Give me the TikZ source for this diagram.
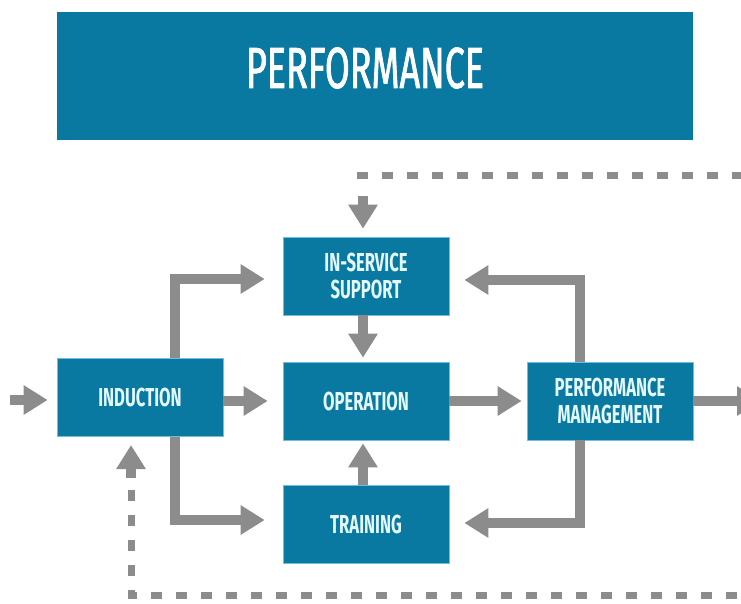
\documentclass[tikz,border=0pt]{standalone}
\usepackage{fontspec}
\setmainfont{Fira Sans}
\newfontfamily\condfont{Fira Sans}[FakeStretch=0.64]
\newfontfamily\headfont{Fira Sans}[FakeStretch=0.62,FakeBold=1.2]
\usetikzlibrary{arrows.meta}
\definecolor{boxblue}{RGB}{9,121,161}
\definecolor{boxedge}{RGB}{110,190,220}
\definecolor{arrowgray}{RGB}{140,140,140}
\definecolor{labeltxt}{RGB}{228,249,255}
\begin{document}
\begin{tikzpicture}[x=1pt,y=-1pt,
  stage/.style={fill=boxblue, draw=boxedge, line width=0.7pt,
    minimum width=166pt, minimum height=78pt, inner sep=0pt,
    text=labeltxt, align=center,
    font=\condfont\bfseries\fontsize{26}{27}\selectfont},
  flow/.style={draw=arrowgray, line width=9.5pt, line join=miter,
    -{Triangle[length=24pt,width=28pt]}},
  dashline/.style={draw=arrowgray, line width=7pt, dash pattern=on 11pt off 14pt},
]
\clip (0,0) rectangle (741,603);
\useasboundingbox (0,0) rectangle (741,603);
\fill[white] (0,0) rectangle (741,603);

% header
\node[fill=boxblue, minimum width=636pt, minimum height=128pt, inner sep=0pt,
  anchor=north west] (head) at (57,12) {};
\node[text=white, font=\headfont\fontsize{58}{58}\selectfont, inner sep=0pt]
  (headtxt) at (365,68) {PERFORMANCE};

% stages
\node[stage] (ind) at (140,397.5) {INDUCTION};
\node[stage] (isv) at (366,276) {IN-SERVICE\\SUPPORT};
\node[stage] (op)  at (366,401) {OPERATION};
\node[stage] (tr)  at (366,524) {TRAINING};
\node[stage] (pm)  at (610,401) {PERFORMANCE\\MANAGEMENT};

% free ends
\coordinate (in0) at (10,400);
\coordinate (out0) at (761,401);
\coordinate (fbtop) at (363,196);
\coordinate (fbleft) at (131,478);

% solid connectors
\draw[flow] (in0) -- ([xshift=-9pt]ind.west |- in0);
\draw[flow] (ind.east |- op.west) -- ([xshift=-15pt]op.west);
\draw[flow] (op.east) -- ([xshift=-5pt]pm.west);
\draw[flow] (pm.east) -- (out0);
\draw[flow] ([xshift=-3pt]isv.south) -- ([xshift=-3pt,yshift=4pt]op.north);
\draw[flow] ([xshift=-3pt]tr.north) -- ([xshift=-3pt,yshift=-3pt]op.south);
\draw[flow] ([xshift=35pt]ind.north) |- ([xshift=-18pt,yshift=-3pt]isv.west);
\draw[flow] ([xshift=35pt]ind.south) |- ([xshift=-18pt,yshift=4pt]tr.west);
\draw[flow] ([xshift=-30pt]pm.north) |- ([xshift=15pt,yshift=-4pt]isv.east);
\draw[flow] ([xshift=-30pt]pm.south) |- ([xshift=15pt,yshift=1pt]tr.east);

% feedback (dashed) loop
\draw[dashline] (357,175) -- (760,175);
\draw[flow] (fbtop) -- ([yshift=8pt]isv.north -| fbtop);
\draw[dashline] (131,490) -- (131,595) -- (760,595);
\draw[flow] (fbleft) -- (131,445);
\end{tikzpicture}
\end{document}
